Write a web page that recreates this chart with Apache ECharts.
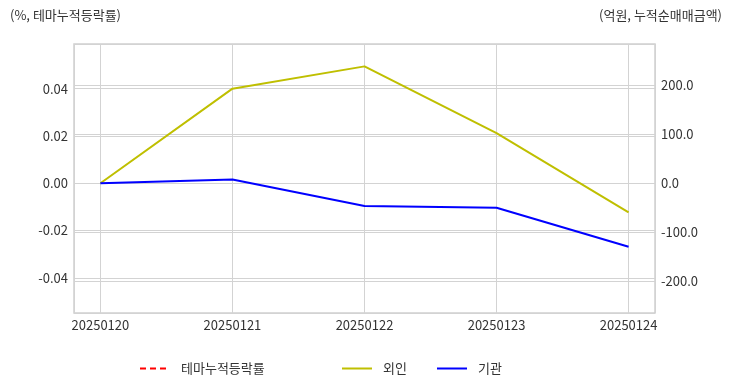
<!DOCTYPE html>
<html><head><meta charset="utf-8">
<script src="https://cdn.jsdelivr.net/npm/echarts@6/dist/echarts.min.js"></script>
<style>html,body{margin:0;padding:0;background:#fff}#c{width:732px;height:392px}</style>
</head><body><div id="c"></div>
<script>
const categories = ['20250120','20250121','20250122','20250123','20250124'];
const themeReturn = [null, null, null, null, null];
const foreign = [0, 192.5, 237.9, 102, -59.5];
const institution = [0, 7.7, -46.4, -49.9, -129.3];
const leftTitle = '(%, 테마누적등락률)';
const rightTitle = '(억원, 누적순매매금액)';
const seriesNames = ['테마누적등락률', '외인', '기관'];

const FONT = '"Noto Sans CJK KR", "Noto Sans", sans-serif';
const pairs = arr => arr.map((v, i) => [i, v]);
const chart = echarts.init(document.getElementById('c'), null, {renderer: 'canvas'});
function mkLegend(left, name) {
  return {top: 362, left: left, padding: 0, itemWidth: 30, itemHeight: 14, itemGap: 10, selectedMode: false,
    itemStyle: {opacity: 0, borderWidth: 0},
    textStyle: {fontFamily: FONT, fontSize: 13, color: '#333', padding: [0, 0, 0, 6]}, data: [name]};
}
chart.setOption({
  animation: false,
  textStyle: {fontFamily: FONT},
  graphic: [
    {type: 'text', left: 10, top: 9, style: {text: leftTitle, font: '13px ' + FONT, fill: '#333'}},
    {type: 'text', right: 10, top: 9, style: {text: rightTitle, font: '13px ' + FONT, fill: '#333'}}
  ],
  grid: {left: 74, right: 77, top: 44, bottom: 79, show: true, borderColor: '#cfcfcf', borderWidth: 1.5, containLabel: false},
  legend: [mkLegend(139, seriesNames[0]), mkLegend(341, seriesNames[1]), mkLegend(436, seriesNames[2])],
  xAxis: {
    type: 'value', min: -0.2, max: 4.2,
    axisLine: {show: false}, axisTick: {show: false},
    splitLine: {show: true, lineStyle: {color: '#d3d3d3', width: 1}},
    axisLabel: {
      showMinLabel: false, showMaxLabel: false, margin: 6,
      color: '#333', fontSize: 13, fontFamily: FONT,
      formatter: v => (Number.isInteger(v) && categories[v]) ? categories[v] : ''
    }
  },
  yAxis: [
    {
      type: 'value', min: -0.0549, max: 0.0589, splitNumber: 5, position: 'left',
      axisLine: {show: false}, axisTick: {show: false},
      splitLine: {show: true, lineStyle: {color: '#d3d3d3', width: 1}},
      axisLabel: {showMinLabel: false, showMaxLabel: false, margin: 6, color: '#333', fontSize: 13, fontFamily: FONT,
        formatter: v => v.toFixed(2)}
    },
    {
      type: 'value', min: -264.4, max: 283.5, splitNumber: 5, position: 'right',
      axisLine: {show: false}, axisTick: {show: false},
      splitLine: {show: true, lineStyle: {color: '#d3d3d3', width: 1}},
      axisLabel: {showMinLabel: false, showMaxLabel: false, margin: 6, color: '#333', fontSize: 13, fontFamily: FONT,
        formatter: v => v.toFixed(1)}
    }
  ],
  series: [
    {name: seriesNames[0], type: 'line', yAxisIndex: 0, data: pairs(themeReturn), showSymbol: false, symbol: 'none',
      lineStyle: {color: '#ff0000', width: 2, type: [6, 4]}, itemStyle: {color: '#ff0000'}},
    {name: seriesNames[1], type: 'line', yAxisIndex: 1, data: pairs(foreign), showSymbol: false, symbol: 'none',
      lineStyle: {color: '#bfbf00', width: 2}, itemStyle: {color: '#bfbf00'}},
    {name: seriesNames[2], type: 'line', yAxisIndex: 1, data: pairs(institution), showSymbol: false, symbol: 'none',
      lineStyle: {color: '#0000ff', width: 2}, itemStyle: {color: '#0000ff'}}
  ]
});
</script></body></html>
